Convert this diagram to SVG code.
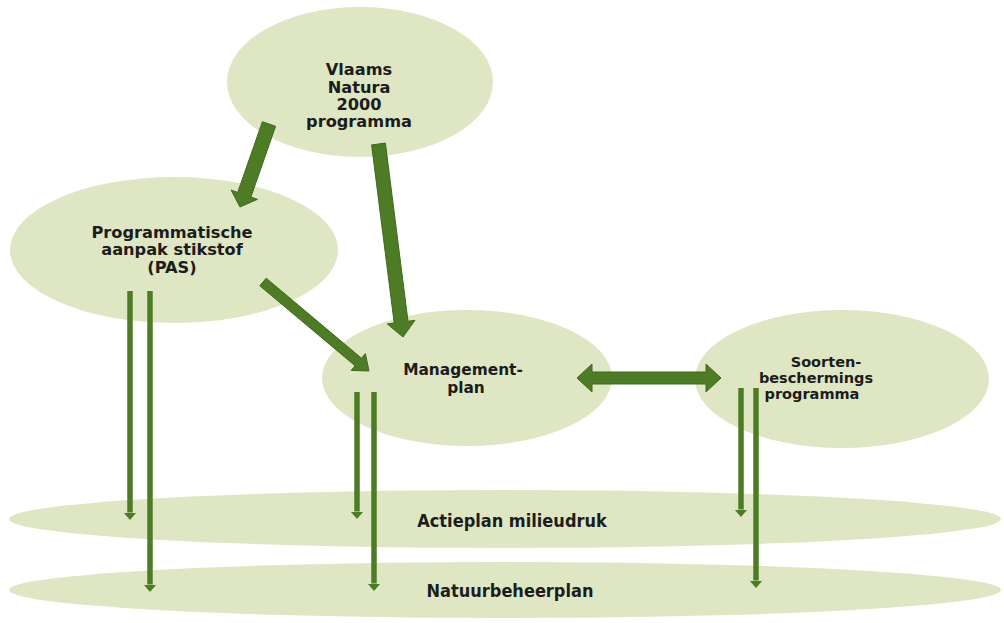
<svg xmlns="http://www.w3.org/2000/svg" width="1004" height="623" viewBox="0 0 1004 623">
<defs>
<style>
.node{fill:#dee6c3}
.lbl{font-family:"DejaVu Sans",Verdana,sans-serif;font-weight:bold;font-size:16.2px;fill:#1c1c1c;text-anchor:middle}
.sm{font-size:15.4px}
.xs{font-size:14.5px}
.lbl2{font-family:"DejaVu Sans Condensed","DejaVu Sans",sans-serif;font-stretch:condensed;font-weight:bold;font-size:18px;fill:#1c1c1c;text-anchor:middle}
.big{fill:#4e7b25;stroke:#3e6a1c;stroke-width:1}
.thin{stroke:#4e7b25;stroke-width:5.5;fill:none}
</style>
<marker id="ah" markerUnits="userSpaceOnUse" markerWidth="8" markerHeight="14" viewBox="0 -7 8 14" refX="0" refY="0" orient="auto">
<path d="M0,-6.5 L7.5,0 L0,6.5 z" fill="#4e7b25"/>
</marker>
</defs>
<rect width="1004" height="623" fill="#ffffff"/>
<g id="actieplan"><ellipse class="node" cx="505" cy="519" rx="496" ry="29"/><text class="lbl2" x="512" y="527">Actieplan milieudruk</text></g>
<g id="natuurbeheerplan"><ellipse class="node" cx="505" cy="590" rx="496" ry="28"/><text class="lbl2" x="510" y="597">Natuurbeheerplan</text></g>
<g id="vlaams"><ellipse class="node" cx="360" cy="82" rx="133" ry="75"/>
<text class="lbl" x="359" y="75">Vlaams</text><text class="lbl" x="359" y="93">Natura</text><text class="lbl" x="359" y="110">2000</text><text class="lbl" x="359" y="127">programma</text></g>
<g id="pas"><ellipse class="node" cx="174" cy="250" rx="164" ry="73"/>
<text class="lbl" x="172" y="238">Programmatische</text><text class="lbl" x="172" y="255">aanpak stikstof</text><text class="lbl" x="172" y="273">(PAS)</text></g>
<g id="management"><ellipse class="node" cx="467" cy="378" rx="145" ry="68"/>
<text class="lbl sm" x="463" y="375">Management-</text><text class="lbl sm" x="466" y="393">plan</text></g>
<g id="soorten"><ellipse class="node" cx="842" cy="379" rx="147" ry="69"/>
<text class="lbl xs" x="826" y="367">Soorten-</text><text class="lbl xs" x="816" y="383">beschermings</text><text class="lbl xs" x="812" y="399">programma</text></g>
<g id="connectors">
<polygon class="big" points="275.6,126.3 250.9,197.0 257.5,199.3 240,207 231.1,190.1 237.7,192.4 262.4,121.7"/>
<polygon class="big" points="385.4,143.1 408.0,321.2 415.0,320.3 403,337 387.2,323.9 394.2,323.0 371.6,144.9"/>
<polygon class="big" points="259.8,285.8 355.1,365.8 351.2,370.4 369,371 365.4,353.6 361.5,358.2 266.2,278.2"/>
<polygon class="big" points="577,378 592,364 592,372 706,372 706,364 721,378 706,392 706,384 592,384 592,392"/>
<line class="thin" x1="130" y1="291" x2="130" y2="512.5" marker-end="url(#ah)"/>
<line class="thin" x1="150" y1="291" x2="150" y2="584.5" marker-end="url(#ah)"/>
<line class="thin" x1="357" y1="392" x2="357" y2="511.5" marker-end="url(#ah)"/>
<line class="thin" x1="374" y1="392" x2="374" y2="583.5" marker-end="url(#ah)"/>
<line class="thin" x1="741" y1="388" x2="741" y2="509.5" marker-end="url(#ah)"/>
<line class="thin" x1="756" y1="388" x2="756" y2="580.5" marker-end="url(#ah)"/>
</g>
</svg>
